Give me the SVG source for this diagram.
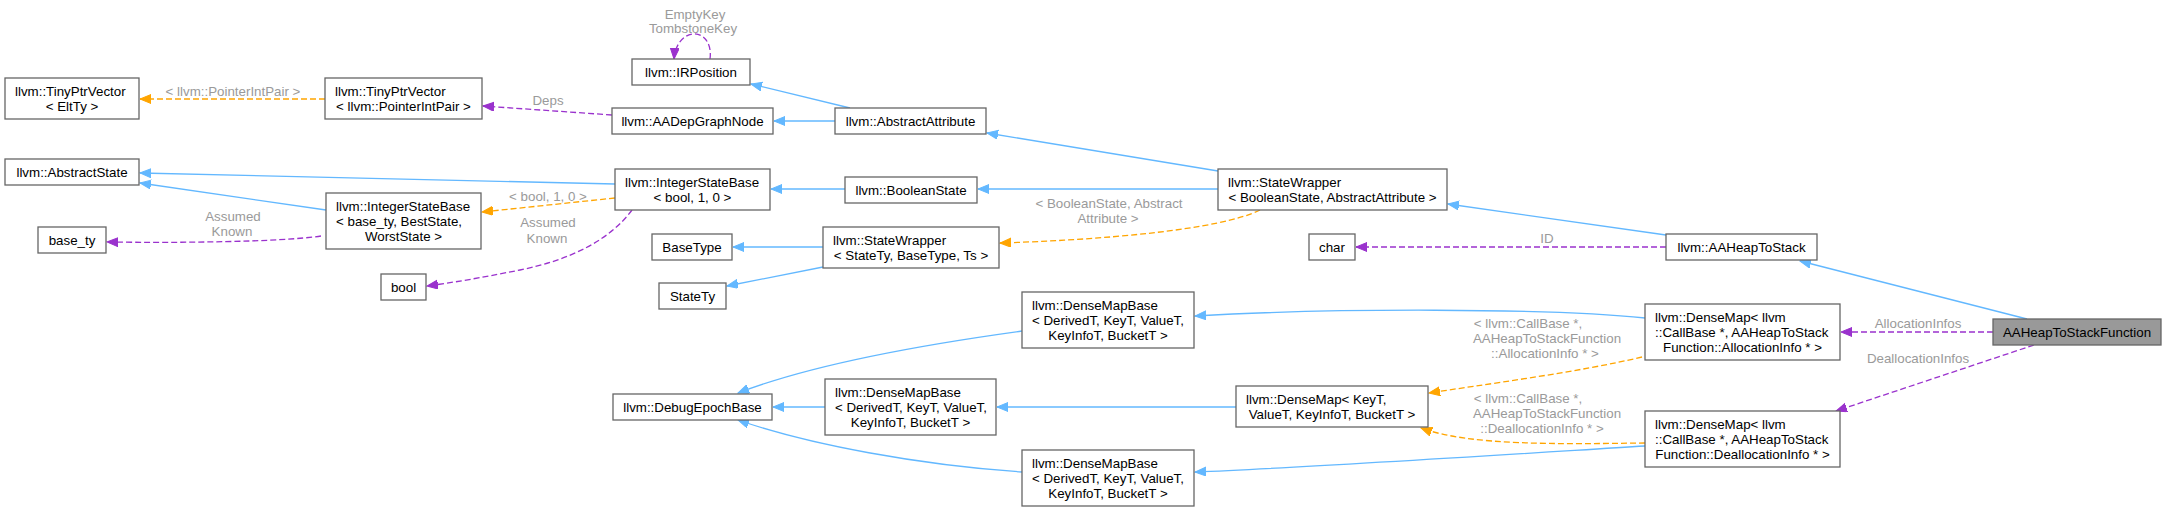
<svg xmlns="http://www.w3.org/2000/svg" width="2167" height="511" viewBox="0 0 2167 511">
<style>
.n rect{fill:#ffffff;stroke:#666666;stroke-width:1.3}
.n.focus rect{fill:#999999}
text{font-family:"Liberation Sans",Arial,Helvetica,sans-serif;font-size:13.33px;fill:#000000}
.c{text-anchor:middle}
.l{text-anchor:start}
.lbl{fill:#9a9a9a;text-anchor:middle}
.e{fill:none;stroke-width:1.3}
.blue{stroke:#63b8ff}
.orange{stroke:#ffa500;stroke-dasharray:6,3}
.purple{stroke:#9a32cd;stroke-dasharray:6,3}
</style>
<defs>
<marker id="ab" markerWidth="12" markerHeight="10" refX="11" refY="4.5" orient="auto" markerUnits="userSpaceOnUse"><path d="M0,0 L11,4.5 L0,9 z" fill="#63b8ff" stroke="#63b8ff"/></marker>
<marker id="ao" markerWidth="12" markerHeight="10" refX="11" refY="4.5" orient="auto" markerUnits="userSpaceOnUse"><path d="M0,0 L11,4.5 L0,9 z" fill="#ffa500" stroke="#ffa500"/></marker>
<marker id="ap" markerWidth="12" markerHeight="10" refX="11" refY="4.5" orient="auto" markerUnits="userSpaceOnUse"><path d="M0,0 L11,4.5 L0,9 z" fill="#9a32cd" stroke="#9a32cd"/></marker>
</defs>
<g id="edges">
<path class="e blue" d="M2027,319 L1800,261" marker-end="url(#ab)"/>
<path class="e blue" d="M1666,235 L1448,204" marker-end="url(#ab)"/>
<path class="e purple" d="M1666,247 L1356,247" marker-end="url(#ap)"/>
<text class="lbl" x="1547" y="243">ID</text>
<path class="e purple" d="M1993,332 L1841,332" marker-end="url(#ap)"/>
<text class="lbl" x="1918" y="328">AllocationInfos</text>
<path class="e purple" d="M2034,345 L1836,411" marker-end="url(#ap)"/>
<text class="lbl" x="1918" y="363">DeallocationInfos</text>
<path class="e blue" d="M1645,318 C1550,308 1330,308 1195,316" marker-end="url(#ab)"/>
<path class="e orange" d="M1642,357 C1580,372 1480,385 1429,393" marker-end="url(#ao)"/>
<text class="lbl" x="1528" y="328">&lt; llvm::CallBase *,</text>
<text class="lbl" x="1547" y="343">AAHeapToStackFunction</text>
<text class="lbl" x="1545" y="358">::AllocationInfo * &gt;</text>
<path class="e orange" d="M1645,443 C1560,444 1470,446 1421,428" marker-end="url(#ao)"/>
<text class="lbl" x="1528" y="403">&lt; llvm::CallBase *,</text>
<text class="lbl" x="1547" y="418">AAHeapToStackFunction</text>
<text class="lbl" x="1542" y="433">::DeallocationInfo * &gt;</text>
<path class="e blue" d="M1645,446 C1500,455 1300,468 1195,472" marker-end="url(#ab)"/>
<path class="e blue" d="M1236,407 L997,407" marker-end="url(#ab)"/>
<path class="e blue" d="M1022,331 C920,345 810,365 738,393" marker-end="url(#ab)"/>
<path class="e blue" d="M825,407 L773,407" marker-end="url(#ab)"/>
<path class="e blue" d="M1022,472 C920,465 810,445 738,420" marker-end="url(#ab)"/>
<path class="e blue" d="M1218,171 L987,133" marker-end="url(#ab)"/>
<path class="e blue" d="M1218,189 L978,189" marker-end="url(#ab)"/>
<path class="e orange" d="M1260,210 C1220,230 1100,240 1000,243" marker-end="url(#ao)"/>
<text class="lbl" x="1109" y="208">&lt; BooleanState, Abstract</text>
<text class="lbl" x="1108" y="223">Attribute &gt;</text>
<path class="e blue" d="M850,108 L751,84" marker-end="url(#ab)"/>
<path class="e blue" d="M835,121 L774,121" marker-end="url(#ab)"/>
<path class="e blue" d="M845,189 L771,189" marker-end="url(#ab)"/>
<path class="e blue" d="M823,247 L733,247" marker-end="url(#ab)"/>
<path class="e blue" d="M823,267 L727,286" marker-end="url(#ab)"/>
<path class="e purple" d="M710,59 C712,45 705,33 693,34 C683,35 675,45 674,59" marker-end="url(#ap)"/>
<text class="lbl" x="695" y="19">EmptyKey</text>
<text class="lbl" x="693" y="33">TombstoneKey</text>
<path class="e purple" d="M612,115 L483,106" marker-end="url(#ap)"/>
<text class="lbl" x="548" y="105">Deps</text>
<path class="e orange" d="M325,99 L140,99" marker-end="url(#ao)"/>
<text class="lbl" x="233" y="96">&lt; llvm::PointerIntPair &gt;</text>
<path class="e blue" d="M615,184 L140,173" marker-end="url(#ab)"/>
<path class="e blue" d="M326,210 L140,183" marker-end="url(#ab)"/>
<path class="e orange" d="M615,198 L482,212" marker-end="url(#ao)"/>
<text class="lbl" x="548" y="201">&lt; bool, 1, 0 &gt;</text>
<path class="e purple" d="M321,236 C280,242 180,243 107,242" marker-end="url(#ap)"/>
<text class="lbl" x="233" y="221">Assumed</text>
<text class="lbl" x="232" y="236">Known</text>
<path class="e purple" d="M632,210 C610,240 570,260 520,270 C480,278 450,283 427,286" marker-end="url(#ap)"/>
<text class="lbl" x="548" y="227">Assumed</text>
<text class="lbl" x="547" y="243">Known</text>
</g>
<g id="n_tpv_elt" class="n"><rect x="5" y="78" width="134" height="41"/><text class="l" x="15" y="96">llvm::TinyPtrVector</text><text class="c" x="72" y="111">&lt; EltTy &gt;</text></g>
<g id="n_tpv_pip" class="n"><rect x="325" y="78" width="157" height="41"/><text class="l" x="335" y="96">llvm::TinyPtrVector</text><text class="c" x="403.5" y="111">&lt; llvm::PointerIntPair &gt;</text></g>
<g id="n_absstate" class="n"><rect x="5" y="159" width="134" height="26"/><text class="c" x="72" y="177">llvm::AbstractState</text></g>
<g id="n_isb_base" class="n"><rect x="326" y="193" width="155" height="56"/><text class="l" x="336" y="211">llvm::IntegerStateBase</text><text class="l" x="336" y="226">&lt; base_ty, BestState,</text><text class="c" x="403.5" y="241">WorstState &gt;</text></g>
<g id="n_base_ty" class="n"><rect x="38" y="227" width="68" height="26"/><text class="c" x="72" y="245">base_ty</text></g>
<g id="n_bool" class="n"><rect x="381" y="274" width="45" height="26"/><text class="c" x="403.5" y="292">bool</text></g>
<g id="n_irpos" class="n"><rect x="632" y="59" width="118" height="26"/><text class="c" x="691" y="77">llvm::IRPosition</text></g>
<g id="n_aadep" class="n"><rect x="612" y="108" width="161" height="26"/><text class="c" x="692.5" y="126">llvm::AADepGraphNode</text></g>
<g id="n_absattr" class="n"><rect x="835" y="108" width="151" height="26"/><text class="c" x="910.5" y="126">llvm::AbstractAttribute</text></g>
<g id="n_isb_bool" class="n"><rect x="615" y="169" width="155" height="41"/><text class="l" x="625" y="187">llvm::IntegerStateBase</text><text class="c" x="692.5" y="202">&lt; bool, 1, 0 &gt;</text></g>
<g id="n_boolstate" class="n"><rect x="845" y="177" width="132" height="26"/><text class="c" x="911" y="195">llvm::BooleanState</text></g>
<g id="n_sw_bool" class="n"><rect x="1218" y="169" width="229" height="41"/><text class="l" x="1228" y="187">llvm::StateWrapper</text><text class="c" x="1332.5" y="202">&lt; BooleanState, AbstractAttribute &gt;</text></g>
<g id="n_basetype" class="n"><rect x="652" y="234" width="80" height="26"/><text class="c" x="692" y="252">BaseType</text></g>
<g id="n_sw_gen" class="n"><rect x="823" y="227" width="176" height="41"/><text class="l" x="833" y="245">llvm::StateWrapper</text><text class="c" x="911" y="260">&lt; StateTy, BaseType, Ts &gt;</text></g>
<g id="n_statety" class="n"><rect x="659" y="283" width="67" height="26"/><text class="c" x="692.5" y="301">StateTy</text></g>
<g id="n_char" class="n"><rect x="1309" y="234" width="46" height="26"/><text class="c" x="1332" y="252">char</text></g>
<g id="n_aah2s" class="n"><rect x="1666" y="234" width="151" height="26"/><text class="c" x="1741.5" y="252">llvm::AAHeapToStack</text></g>
<g id="n_dm_alloc" class="n"><rect x="1645" y="304" width="195" height="56"/><text class="l" x="1655" y="322">llvm::DenseMap&lt; llvm</text><text class="l" x="1655" y="337">::CallBase *, AAHeapToStack</text><text class="c" x="1742.5" y="352">Function::AllocationInfo * &gt;</text></g>
<g id="n_target" class="n focus"><rect x="1993" y="319" width="168" height="26"/><text class="c" x="2077" y="337">AAHeapToStackFunction</text></g>
<g id="n_dm_kv" class="n"><rect x="1236" y="386" width="192" height="41"/><text class="l" x="1246" y="404">llvm::DenseMap&lt; KeyT,</text><text class="c" x="1332" y="419">ValueT, KeyInfoT, BucketT &gt;</text></g>
<g id="n_dm_dealloc" class="n"><rect x="1645" y="411" width="195" height="56"/><text class="l" x="1655" y="429">llvm::DenseMap&lt; llvm</text><text class="l" x="1655" y="444">::CallBase *, AAHeapToStack</text><text class="c" x="1742.5" y="459">Function::DeallocationInfo * &gt;</text></g>
<g id="n_dmb1" class="n"><rect x="1022" y="292" width="172" height="56"/><text class="l" x="1032" y="310">llvm::DenseMapBase</text><text class="l" x="1032" y="325">&lt; DerivedT, KeyT, ValueT,</text><text class="c" x="1108" y="340">KeyInfoT, BucketT &gt;</text></g>
<g id="n_debug" class="n"><rect x="613" y="394" width="159" height="26"/><text class="c" x="692.5" y="412">llvm::DebugEpochBase</text></g>
<g id="n_dmb2" class="n"><rect x="825" y="379" width="171" height="56"/><text class="l" x="835" y="397">llvm::DenseMapBase</text><text class="l" x="835" y="412">&lt; DerivedT, KeyT, ValueT,</text><text class="c" x="910.5" y="427">KeyInfoT, BucketT &gt;</text></g>
<g id="n_dmb3" class="n"><rect x="1022" y="450" width="172" height="56"/><text class="l" x="1032" y="468">llvm::DenseMapBase</text><text class="l" x="1032" y="483">&lt; DerivedT, KeyT, ValueT,</text><text class="c" x="1108" y="498">KeyInfoT, BucketT &gt;</text></g>
</svg>
